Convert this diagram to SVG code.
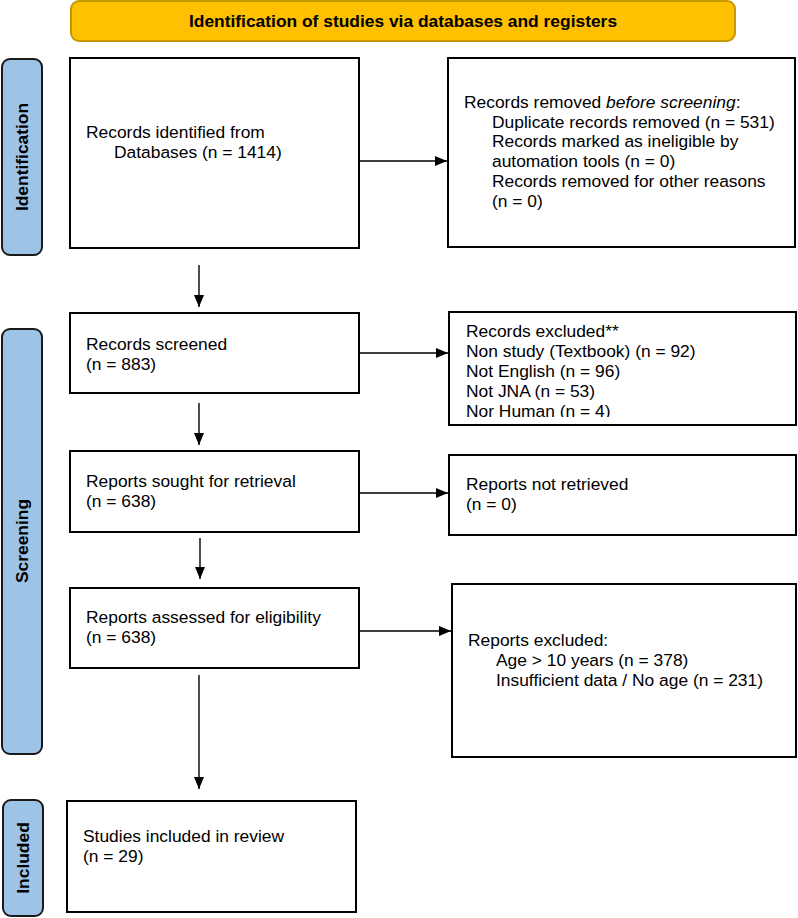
<svg xmlns="http://www.w3.org/2000/svg" width="798" height="918" viewBox="0 0 798 918">
<style>
.bg{fill:#ffffff}
.box{fill:#ffffff;stroke:#000000;stroke-width:2}
.side{fill:#9DC3E6;stroke:#1a1a1a;stroke-width:2}
.head{fill:#FFC000;stroke:#C49A00;stroke-width:2}
.t{font-family:"Liberation Sans",Arial,sans-serif;font-size:17.4px;fill:#000000}
.tb{font-family:"Liberation Sans",Arial,sans-serif;font-size:17.4px;font-weight:bold;fill:#000000}
.conn{stroke:#000000;stroke-width:1.4;fill:none}
</style>
<defs>
<marker id="ah" markerWidth="12" markerHeight="10" refX="12" refY="5" orient="auto" markerUnits="userSpaceOnUse">
<path d="M0,0 L12,5 L0,10 Z" fill="#000000"/>
</marker>
<clipPath id="clipEx"><rect x="449" y="312" width="348" height="105"/></clipPath>
</defs>
<rect class="bg" x="0" y="0" width="798" height="918"/>

<g id="header">
<rect class="head" x="71" y="1" width="664" height="40" rx="8"/>
<text class="tb" x="403" y="27" text-anchor="middle">Identification of studies via databases and registers</text>
</g>

<g id="side-identification">
<rect class="side" x="2" y="59" width="40" height="196" rx="8"/>
<text class="tb" transform="translate(28,157) rotate(-90)" text-anchor="middle">Identification</text>
</g>
<g id="side-screening">
<rect class="side" x="2" y="329" width="40" height="425" rx="8"/>
<text class="tb" transform="translate(28,541) rotate(-90)" text-anchor="middle">Screening</text>
</g>
<g id="side-included">
<rect class="side" x="3" y="800" width="40" height="116" rx="8"/>
<text class="tb" transform="translate(29,858) rotate(-90)" text-anchor="middle">Included</text>
</g>

<g id="records-identified">
<rect class="box" x="70" y="58" width="289" height="190"/>
<text class="t" x="86" y="138">Records identified from</text>
<text class="t" x="114" y="158">Databases (n = 1414)</text>
</g>

<g id="records-removed">
<rect class="box" x="448" y="58" width="347" height="189"/>
<text class="t" x="464" y="108">Records removed <tspan font-style="italic">before screening</tspan>:</text>
<text class="t" x="492" y="128">Duplicate records removed (n = 531)</text>
<text class="t" x="492" y="147">Records marked as ineligible by</text>
<text class="t" x="492" y="167">automation tools (n = 0)</text>
<text class="t" x="492" y="187">Records removed for other reasons</text>
<text class="t" x="492" y="207">(n = 0)</text>
</g>

<g id="records-screened">
<rect class="box" x="70" y="313" width="289" height="80"/>
<text class="t" x="86" y="350">Records screened</text>
<text class="t" x="86" y="370">(n = 883)</text>
</g>

<g id="records-excluded">
<rect class="box" x="449" y="312" width="347" height="113"/>
<g clip-path="url(#clipEx)">
<text class="t" x="466" y="337">Records excluded**</text>
<text class="t" x="466" y="357">Non study (Textbook) (n = 92)</text>
<text class="t" x="466" y="377">Not English (n = 96)</text>
<text class="t" x="466" y="397">Not JNA (n = 53)</text>
<text class="t" x="466" y="417">Nor Human (n = 4)</text>
</g>
</g>

<g id="reports-sought">
<rect class="box" x="70" y="451" width="289" height="81"/>
<text class="t" x="86" y="487">Reports sought for retrieval</text>
<text class="t" x="86" y="507">(n = 638)</text>
</g>

<g id="reports-not-retrieved">
<rect class="box" x="449" y="455" width="347" height="80"/>
<text class="t" x="466" y="490">Reports not retrieved</text>
<text class="t" x="466" y="510">(n = 0)</text>
</g>

<g id="reports-assessed">
<rect class="box" x="70" y="588" width="289" height="80"/>
<text class="t" x="86" y="623">Reports assessed for eligibility</text>
<text class="t" x="86" y="643">(n = 638)</text>
</g>

<g id="reports-excluded">
<rect class="box" x="452" y="584" width="344" height="173"/>
<text class="t" x="468" y="646">Reports excluded:</text>
<text class="t" x="496" y="666">Age &gt; 10 years (n = 378)</text>
<text class="t" x="496" y="686">Insufficient data / No age (n = 231)</text>
</g>

<g id="studies-included">
<rect class="box" x="67" y="801" width="289" height="111"/>
<text class="t" x="83" y="842">Studies included in review</text>
<text class="t" x="83" y="862">(n = 29)</text>
</g>

<g id="connectors">
<line class="conn" x1="359" y1="161" x2="447" y2="161" marker-end="url(#ah)"/>
<line class="conn" x1="199" y1="265" x2="199" y2="307" marker-end="url(#ah)"/>
<line class="conn" x1="359" y1="353" x2="448" y2="353" marker-end="url(#ah)"/>
<line class="conn" x1="199" y1="403" x2="199" y2="445" marker-end="url(#ah)"/>
<line class="conn" x1="359" y1="493" x2="448" y2="493" marker-end="url(#ah)"/>
<line class="conn" x1="200" y1="538" x2="200" y2="579" marker-end="url(#ah)"/>
<line class="conn" x1="359" y1="631" x2="451" y2="631" marker-end="url(#ah)"/>
<line class="conn" x1="199" y1="675" x2="199" y2="789" marker-end="url(#ah)"/>
</g>
</svg>
